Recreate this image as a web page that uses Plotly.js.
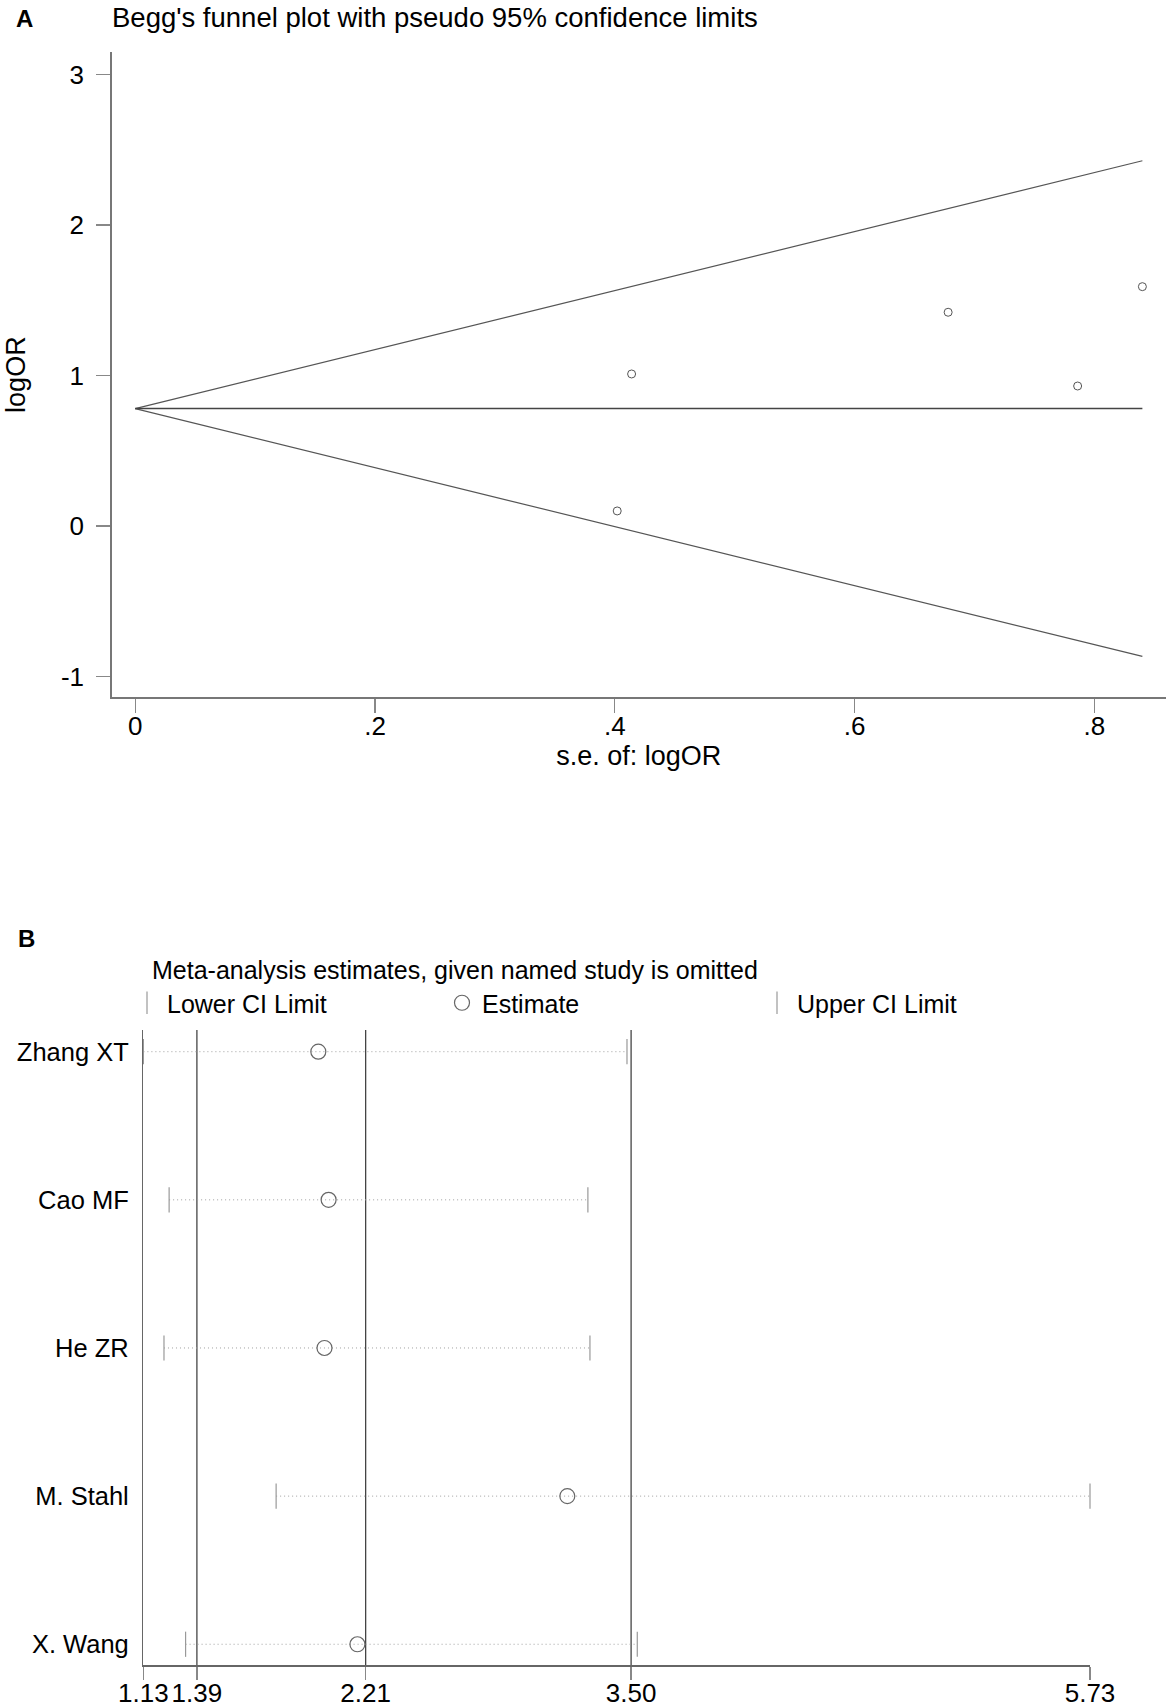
<!DOCTYPE html>
<html>
<head>
<meta charset="utf-8">
<script src="https://cdn.plot.ly/plotly-3.0.1.min.js"></script>
<style>
  html, body { margin: 0; padding: 0; background: #ffffff; }
  #chart { width: 1167px; height: 1708px; }
</style>
</head>
<body>
<div id="chart"></div>
<script>
// ---------- Panel A: Begg's funnel plot ----------
const seLogOR = [0.402, 0.414, 0.678, 0.786, 0.840];
const logOR = [0.10, 1.01, 1.42, 0.93, 1.59];
const pooledLogOR = 0.78;
const zCrit = 1.96;
const xTickValsA = [0, 0.2, 0.4, 0.6, 0.8];
const xTickTextA = ['0', '.2', '.4', '.6', '.8'];
const yTickValsA = [-1, 0, 1, 2, 3];
const yTickTextA = ['-1', '0', '1', '2', '3'];

// ---------- Panel B: sensitivity analysis ----------
const studies = ['Zhang XT', 'Cao MF', 'He ZR', 'M. Stahl', 'X. Wang'];
const estimate = [1.98, 2.03, 2.01, 3.19, 2.17];
const lowerCI = [1.13, 1.255, 1.23, 1.775, 1.335];
const upperCI = [3.48, 3.29, 3.30, 5.73, 3.53];
const combined = [1.39, 2.21, 3.50]; // lower CI, estimate, upper CI
const xTickValsB = [1.13, 1.39, 2.21, 3.50, 5.73];
const xTickTextB = ['1.13', '1.39', '2.21', '3.50', '5.73'];

const W = 1167, H = 1708;
const fx = px => px / W;
const fy = py => 1 - py / H;
const FONT = 'Liberation Sans, Arial, sans-serif';

const seMax = Math.max(...seLogOR);
const rowIdx = studies.map((s, i) => i + 1);

const traces = [];
// funnel limits
traces.push({
  x: [0, seMax], y: [pooledLogOR + zCrit * 0, pooledLogOR + zCrit * seMax],
  mode: 'lines', line: {color: '#555', width: 1.2}, xaxis: 'x', yaxis: 'y',
  showlegend: false, hoverinfo: 'skip'
});
traces.push({
  x: [0, seMax], y: [pooledLogOR - zCrit * 0, pooledLogOR - zCrit * seMax],
  mode: 'lines', line: {color: '#555', width: 1.2}, xaxis: 'x', yaxis: 'y',
  showlegend: false, hoverinfo: 'skip'
});
traces.push({
  x: [0, seMax], y: [pooledLogOR, pooledLogOR],
  mode: 'lines', line: {color: '#444', width: 1.5}, xaxis: 'x', yaxis: 'y',
  showlegend: false, hoverinfo: 'skip'
});
traces.push({
  x: seLogOR, y: logOR, mode: 'markers', xaxis: 'x', yaxis: 'y',
  marker: {symbol: 'circle-open', size: 8, color: '#555', line: {width: 1}},
  showlegend: false, cliponaxis: false
});

// Panel B dotted CI lines
const dx = [], dy = [];
studies.forEach((s, i) => {
  dx.push(lowerCI[i], upperCI[i], null);
  dy.push(rowIdx[i], rowIdx[i], null);
});
traces.push({
  x: dx, y: dy, mode: 'lines', xaxis: 'x2', yaxis: 'y2',
  line: {color: '#a0a0a0', width: 1, dash: '1px,3px'},
  showlegend: false, hoverinfo: 'skip'
});
traces.push({
  x: lowerCI, y: rowIdx, mode: 'markers', name: 'Lower CI Limit',
  xaxis: 'x2', yaxis: 'y2', cliponaxis: false,
  marker: {symbol: 'line-ns', size: 18, color: '#999', line: {width: 1.2, color: '#999'}}
});
traces.push({
  x: estimate, y: rowIdx, mode: 'markers', name: 'Estimate',
  xaxis: 'x2', yaxis: 'y2', cliponaxis: false,
  marker: {symbol: 'circle-open', size: 15, color: '#666', line: {width: 1.2}}
});
traces.push({
  x: upperCI, y: rowIdx, mode: 'markers', name: 'Upper CI Limit',
  xaxis: 'x2', yaxis: 'y2', cliponaxis: false,
  marker: {symbol: 'line-ns', size: 18, color: '#999', line: {width: 1.2, color: '#999'}}
});

const shapes = combined.map(v => ({
  type: 'line', xref: 'x2', yref: 'y2 domain', x0: v, x1: v, y0: 0, y1: 1,
  line: {color: '#444', width: 1.3}, layer: 'below'
}));

const axisCommon = {
  showgrid: false, zeroline: false, showline: true, linecolor: '#777', linewidth: 1.5,
  ticks: 'outside', tickcolor: '#888', tickwidth: 1.2,
  tickfont: {family: FONT, size: 26, color: '#000'}
};

const layout = {
  width: W, height: H,
  margin: {l: 0, r: 0, t: 0, b: 0},
  paper_bgcolor: '#fff', plot_bgcolor: '#fff',
  font: {family: FONT, color: '#000'},
  title: {
    text: "Begg's funnel plot with pseudo 95% confidence limits",
    x: fx(112), xanchor: 'left', xref: 'paper',
    y: fy(17), yanchor: 'middle', yref: 'paper',
    font: {family: FONT, size: 27.5, color: '#000'}
  },
  xaxis: Object.assign({}, axisCommon, {
    domain: [fx(111.7), fx(1166)], range: [-0.0196, 0.8597], anchor: 'y',
    tickmode: 'array', tickvals: xTickValsA, ticktext: xTickTextA, ticklen: 14,
    ticklabelstandoff: -9,
    title: {text: 's.e. of: logOR', font: {family: FONT, size: 27, color: '#000'}, standoff: 0}
  }),
  yaxis: Object.assign({}, axisCommon, {
    domain: [fy(697), fy(52.3)], range: [-1.136, 3.147], anchor: 'x',
    tickmode: 'array', tickvals: yTickValsA, ticktext: yTickTextA, ticklen: 14,
    ticklabelstandoff: 7,
    title: {text: 'logOR', font: {family: FONT, size: 27, color: '#000'}, standoff: 27}
  }),
  xaxis2: Object.assign({}, axisCommon, {
    domain: [fx(143.4), fx(1090)], range: [1.13, 5.73], anchor: 'y2',
    tickmode: 'array', tickvals: xTickValsB, ticktext: xTickTextB, ticklen: 13,
    linecolor: '#666', ticklabelstandoff: -9
  }),
  yaxis2: Object.assign({}, axisCommon, {
    domain: [fy(1665), fy(1030)], range: [5.14, 0.8535], anchor: 'x2',
    tickmode: 'array', tickvals: rowIdx, ticktext: studies, ticks: '',
    linecolor: '#666', ticklabelstandoff: 8,
    tickfont: {family: FONT, size: 25.5, color: '#000'}
  }),
  showlegend: true,
  legend: {
    orientation: 'h', x: fx(127), xanchor: 'left', y: fy(1003), yanchor: 'middle',
    font: {family: FONT, size: 25, color: '#000'}, bgcolor: 'rgba(0,0,0,0)',
    itemwidth: 30, entrywidthmode: 'pixels', entrywidth: 270, tracegroupgap: 0,
    itemclick: false, itemdoubleclick: false
  },
  shapes: shapes,
  annotations: [
    {text: '<b>A</b>', x: fx(14), y: fy(18), xref: 'paper', yref: 'paper',
     xanchor: 'left', yanchor: 'middle', showarrow: false,
     font: {family: FONT, size: 24, color: '#000'}},
    {text: '<b>B</b>', x: fx(16), y: fy(938), xref: 'paper', yref: 'paper',
     xanchor: 'left', yanchor: 'middle', showarrow: false,
     font: {family: FONT, size: 24, color: '#000'}},
    {text: 'Meta-analysis estimates, given named study is omitted',
     x: fx(149.6), y: fy(970), xref: 'paper', yref: 'paper',
     xanchor: 'left', yanchor: 'middle', showarrow: false,
     font: {family: FONT, size: 25, color: '#000'}}
  ]
};

Plotly.newPlot('chart', traces, layout, {staticPlot: true, displayModeBar: false});
</script>
</body>
</html>
